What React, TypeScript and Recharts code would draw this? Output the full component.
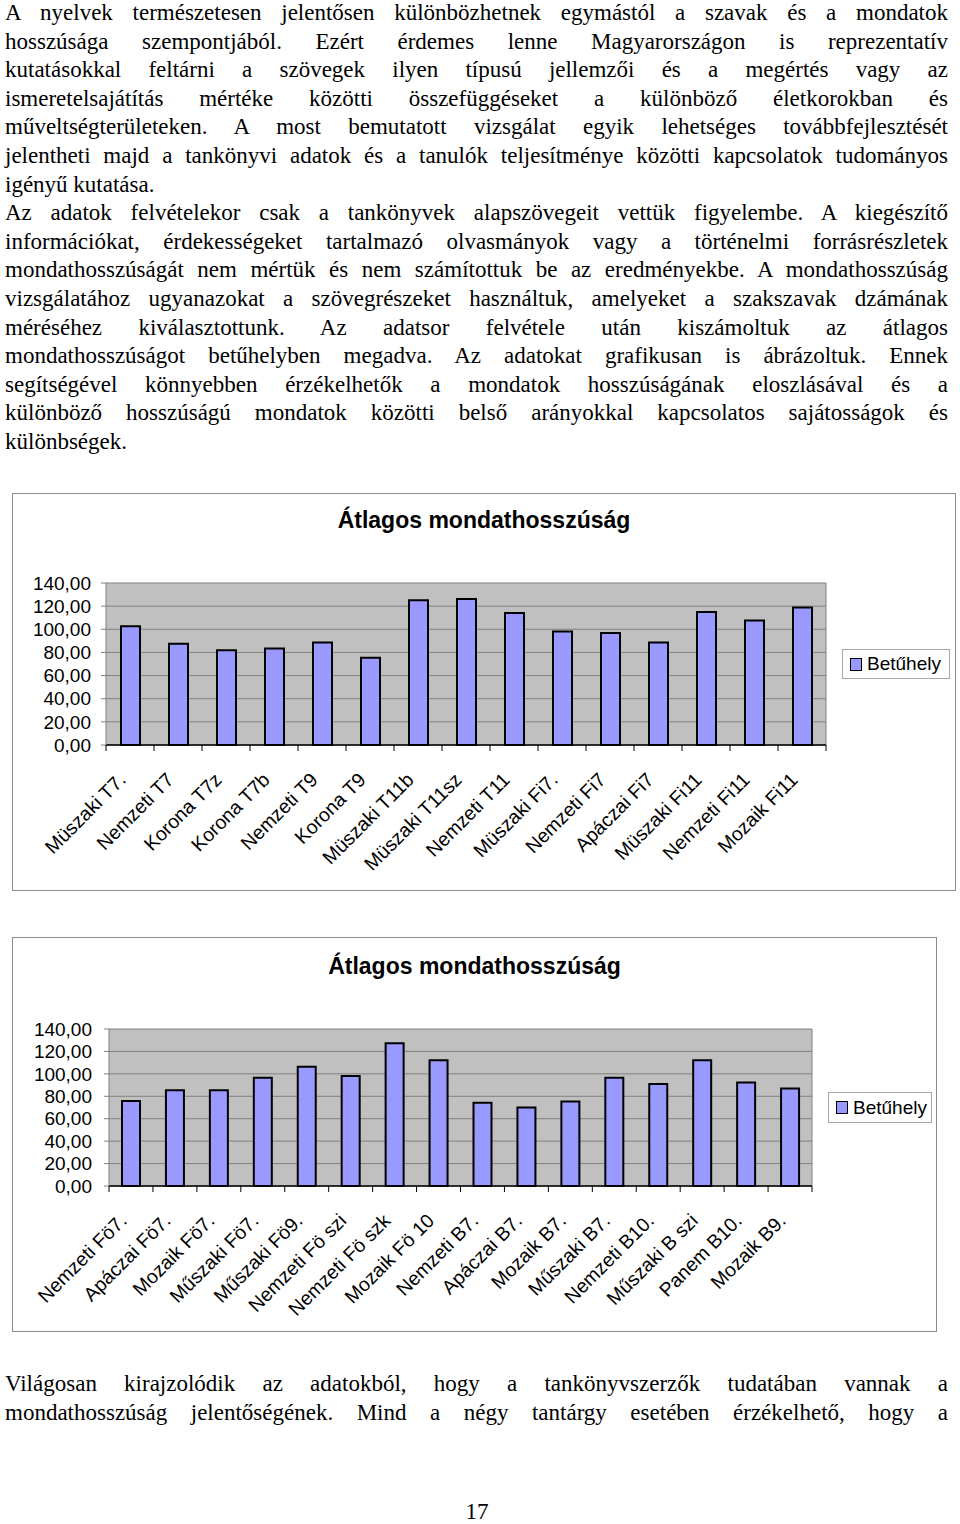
import { BarChart, Bar, XAxis, YAxis, CartesianGrid, Legend } from "recharts";

const SANS = '"Liberation Sans", Arial, sans-serif';
const SERIF = '"Liberation Serif", "Times New Roman", serif';

// chart 1 – upper chart
const names1 = [
  "Müszaki T7.", "Nemzeti T7", "Korona T7z", "Korona T7b", "Nemzeti T9",
  "Korona T9", "Müszaki T11b", "Müszaki T11sz", "Nemzeti T11", "Müszaki Fi7.",
  "Nemzeti Fi7", "Apáczai Fi7", "Müszaki Fi11", "Nemzeti Fi11", "Mozaik Fi11",
];
const values1 = [102.6, 87.6, 81.8, 83.3, 88.5, 75.5, 125.1, 126.2, 114.1, 98.0, 96.8, 88.5, 115.0, 107.5, 118.8];

// chart 2 – lower chart
const names2 = [
  "Nemzeti Fö7.", "Apáczai Fö7.", "Mozaik Fö7.", "Műszaki Fö7.", "Műszaki Fö9.",
  "Nemzeti Fö szi", "Nemzeti Fö szk", "Mozaik Fö 10", "Nemzeti B7.", "Apáczai B7.",
  "Mozaik B7.", "Műszaki B7.", "Nemzeti B10.", "Műszaki B szi", "Panem B10.", "Mozaik B9.",
];
const values2 = [75.7, 85.3, 85.3, 96.5, 106.3, 98.0, 127.3, 112.1, 74.2, 70.1, 75.4, 96.5, 90.9, 112.1, 92.4, 87.0];

const yTicks = [0, 20, 40, 60, 80, 100, 120, 140];
const seriesName = "Betűhely";
const chartTitle = "Átlagos mondathosszúság";

const introLines = [
  { text: "A nyelvek természetesen jelentősen különbözhetnek egymástól a szavak és a mondatok" },
  { text: "hosszúsága szempontjából. Ezért érdemes lenne Magyarországon is reprezentatív" },
  { text: "kutatásokkal feltárni a szövegek ilyen típusú jellemzői és a megértés vagy az" },
  { text: "ismeretelsajátítás mértéke közötti összefüggéseket a különböző életkorokban és" },
  { text: "műveltségterületeken. A most bemutatott vizsgálat egyik lehetséges továbbfejlesztését" },
  { text: "jelentheti majd a tankönyvi adatok és a tanulók teljesítménye közötti kapcsolatok tudományos" },
  { text: "igényű kutatása.", last: true },
  { text: "Az adatok felvételekor csak a tankönyvek alapszövegeit vettük figyelembe. A kiegészítő" },
  { text: "információkat, érdekességeket tartalmazó olvasmányok vagy a történelmi forrásrészletek" },
  { text: "mondathosszúságát nem mértük és nem számítottuk be az eredményekbe. A mondathosszúság" },
  { text: "vizsgálatához ugyanazokat a szövegrészeket használtuk, amelyeket a szakszavak dzámának" },
  { text: "méréséhez kiválasztottunk. Az adatsor felvétele után kiszámoltuk az átlagos" },
  { text: "mondathosszúságot betűhelyben megadva. Az adatokat grafikusan is ábrázoltuk. Ennek" },
  { text: "segítségével könnyebben érzékelhetők a mondatok hosszúságának eloszlásával és a" },
  { text: "különböző hosszúságú mondatok közötti belső arányokkal kapcsolatos sajátosságok és" },
  { text: "különbségek.", last: true },
];

const outroLines = [
  { text: "Világosan kirajzolódik az adatokból, hogy a tankönyvszerzők tudatában vannak a" },
  { text: "mondathosszúság jelentőségének. Mind a négy tantárgy esetében érzékelhető, hogy a" },
];

const LINE_H = 28.6;
const TEXT_W = 943;
const TEXT_SIZE = 23;

const TextBlock = ({ lines, top }: { lines: { text: string; last?: boolean }[]; top: number }) => (
  <div style={{ position: "absolute", left: 5, top, width: TEXT_W }}>
    {lines.map((l, i) => (
      <div
        key={i}
        style={{
          width: TEXT_W,
          height: LINE_H,
          lineHeight: "24px",
          fontFamily: SERIF,
          fontSize: TEXT_SIZE,
          color: "#000",
          textAlign: "justify",
          textAlignLast: l.last ? "left" : "justify",
          whiteSpace: "nowrap",
        }}
      >
        {l.text}
      </div>
    ))}
  </div>
);

const fmt = (v: number) => v.toFixed(2).replace(".", ",");

// slanted category label + boundary tick marks (Excel style)
const SlantTick = (props: any) => {
  const { x, y, payload, index, visibleTicksCount } = props;
  const half = payload.offset || 22;
  const base = y - 8;
  const ax = x - 3;
  const ay = base + 36;
  return (
    <g>
      <line x1={x - half} y1={base} x2={x - half} y2={base + 6} stroke="#000" />
      {index === visibleTicksCount - 1 && (
        <line x1={x + half} y1={base} x2={x + half} y2={base + 6} stroke="#000" />
      )}
      <text
        x={ax}
        y={ay}
        textAnchor="end"
        transform={`rotate(-45 ${ax} ${ay})`}
        fontFamily={SANS}
        fontSize={19.5}
        fill="#000"
      >
        {payload.value}
      </text>
    </g>
  );
};

const LegendBox = (props: any) => (
  <div
    style={{
      width: "100%",
      height: "100%",
      boxSizing: "border-box",
      border: "1px solid #a8a8a8",
      background: "#fff",
      display: "flex",
      alignItems: "center",
      paddingLeft: 7,
      fontFamily: SANS,
      fontSize: 19,
      color: "#000",
    }}
  >
    {(props.payload || []).map((e: any, i: number) => (
      <span key={i} style={{ display: "flex", alignItems: "center" }}>
        <span
          style={{
            display: "inline-block",
            width: 10,
            height: 11,
            background: e.color,
            border: "1.5px solid #000",
            marginRight: 5,
          }}
        />
        {e.value}
      </span>
    ))}
  </div>
);

interface FrameProps {
  names: string[];
  values: number[];
  left: number;
  top: number;
  width: number;
  height: number;
  plotTop: number;
  plotRight: number;
  yWidth: number;
  yTickMargin: number;
  barSize: number;
  titleY: number;
  legend: { left: number; top: number; width: number; height: number };
}

const ChartFrame = (p: FrameProps) => {
  const data = p.names.map((name, i) => ({ name, value: p.values[i] }));
  return (
    <div
      style={{
        position: "absolute",
        left: p.left,
        top: p.top,
        width: p.width,
        height: p.height,
        outline: "1px solid #8c8c8c",
        outlineOffset: -1,
        background: "#fff",
      }}
    >
      <div
        style={{
          position: "absolute",
          left: 0,
          top: p.titleY - 14,
          width: p.width,
          height: 28,
          lineHeight: "28px",
          textAlign: "center",
          fontFamily: SANS,
          fontWeight: "bold",
          fontSize: 23,
          color: "#000",
        }}
      >
        {chartTitle}
      </div>
      <BarChart
        width={p.width}
        height={p.height}
        data={data}
        margin={{ top: p.plotTop, right: p.plotRight, left: 0, bottom: 0 }}
        style={{ position: "absolute", left: 0, top: 0 }}
      >
        <CartesianGrid
          fill="#c0c0c0"
          fillOpacity={1}
          stroke="#808080"
          vertical
          verticalCoordinatesGenerator={({ offset }: any) => [offset.left + offset.width]}
        />
        <XAxis
          dataKey="name"
          interval={0}
          height={146}
          tickLine={false}
          tickSize={6}
          tickMargin={2}
          axisLine={{ stroke: "#000", strokeWidth: 1.5 }}
          tick={<SlantTick />}
        />
        <YAxis
          domain={[0, 140]}
          ticks={yTicks}
          interval={0}
          width={p.yWidth}
          tickSize={5}
          tickMargin={p.yTickMargin}
          tickFormatter={fmt}
          axisLine={{ stroke: "#808080" }}
          tickLine={{ stroke: "#808080" }}
          tick={{ fontFamily: SANS, fontSize: 19, fill: "#000" }}
        />
        <Legend
          layout="horizontal"
          align="center"
          verticalAlign="middle"
          content={<LegendBox />}
          wrapperStyle={{ ...p.legend }}
        />
        <Bar
          dataKey="value"
          name={seriesName}
          fill="#9999ff"
          stroke="#000"
          strokeWidth={2}
          barSize={p.barSize}
          isAnimationActive={false}
        />
      </BarChart>
    </div>
  );
};

export default function App() {
  return (
    <div
      style={{
        position: "absolute",
        left: 0,
        top: 0,
        width: 960,
        height: 1524,
        background: "#fff",
        overflow: "hidden",
      }}
    >
      <TextBlock lines={introLines} top={1} />
      <ChartFrame
        names={names1}
        values={values1}
        left={12}
        top={493}
        width={944}
        height={398}
        plotTop={90}
        plotRight={130}
        yWidth={94}
        yTickMargin={10}
        barSize={19}
        titleY={27}
        legend={{ left: 830, top: 156, width: 108, height: 30 }}
      />
      <ChartFrame
        names={names2}
        values={values2}
        left={12}
        top={937}
        width={925}
        height={395}
        plotTop={92}
        plotRight={125}
        yWidth={97}
        yTickMargin={12}
        barSize={18}
        titleY={29}
        legend={{ left: 816, top: 155, width: 104, height: 31 }}
      />
      <TextBlock lines={outroLines} top={1372} />
      <div
        style={{
          position: "absolute",
          left: 0,
          top: 1500,
          width: 954,
          textAlign: "center",
          fontFamily: SERIF,
          fontSize: TEXT_SIZE,
          lineHeight: "24px",
          color: "#000",
        }}
      >
        17
      </div>
    </div>
  );
}
